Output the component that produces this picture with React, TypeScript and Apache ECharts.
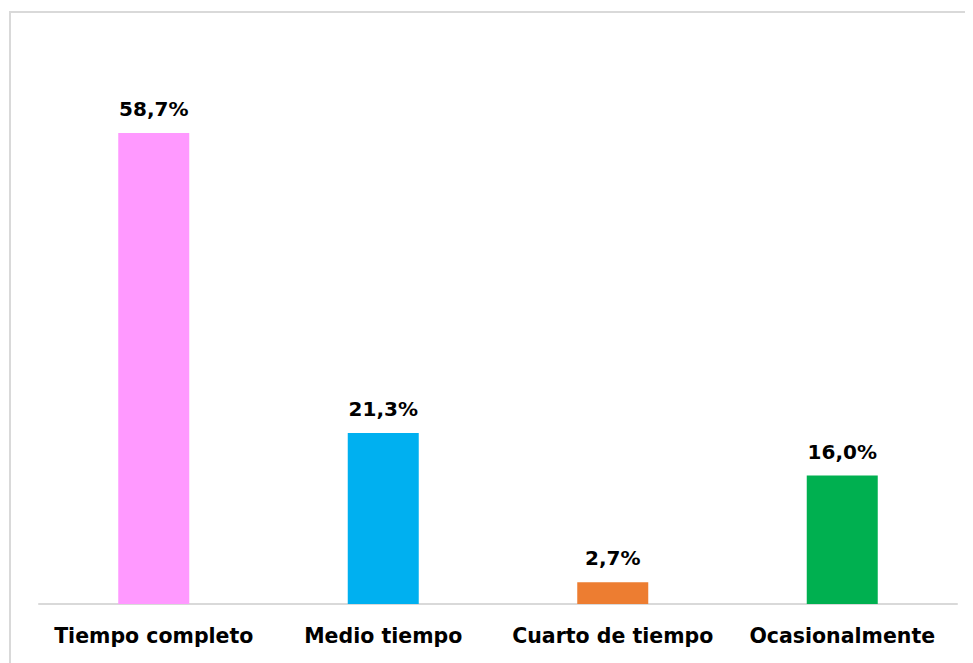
import React, { useEffect, useRef } from "react";
import * as echarts from "echarts";

const categories = ["Tiempo completo", "Medio tiempo", "Cuarto de tiempo", "Ocasionalmente"];
const values = [58.7, 21.3, 2.7, 16.0];
const barColors = ["#FF99FF", "#00B0F0", "#ED7D31", "#00B050"];

export default function App() {
  const ref = useRef<HTMLDivElement>(null);
  useEffect(() => {
    if (!ref.current) return;
    const chart = echarts.init(ref.current, undefined, { renderer: "svg" });
    const font = "'DejaVu Sans', sans-serif";
    chart.setOption({
      animation: false,
      graphic: [
        {
          type: "rect",
          shape: { x: 2, y: 4, width: 1000, height: 1000 },
          style: { fill: "none", stroke: "#D9D9D9", lineWidth: 2 },
          silent: true,
        },
      ],
      grid: { left: 31, right: 16, top: 34.3, bottom: 59 },
      xAxis: {
        type: "category",
        data: categories,
        axisLine: { lineStyle: { color: "#D9D9D9", width: 2 } },
        axisTick: { show: false },
        axisLabel: {
          interval: 0,
          color: "#000",
          fontFamily: font,
          fontWeight: "bold",
          fontSize: 20.5,
          margin: 21,
        },
      },
      yAxis: {
        type: "value",
        min: 0,
        max: 70,
        show: false,
        splitLine: { show: false },
      },
      series: [
        {
          type: "bar",
          data: values.map((v, i) => ({ value: v, itemStyle: { color: barColors[i] } })),
          barWidth: 71,
          label: {
            show: true,
            position: "top",
            distance: 14,
            color: "#000",
            fontFamily: font,
            fontWeight: "bold",
            fontSize: 20,
            formatter: (p: any) => p.value.toFixed(1).replace(".", ",") + "%",
          },
        },
      ],
    });
    return () => chart.dispose();
  }, []);
  return <div ref={ref} style={{ width: 965, height: 655 }} />;
}
